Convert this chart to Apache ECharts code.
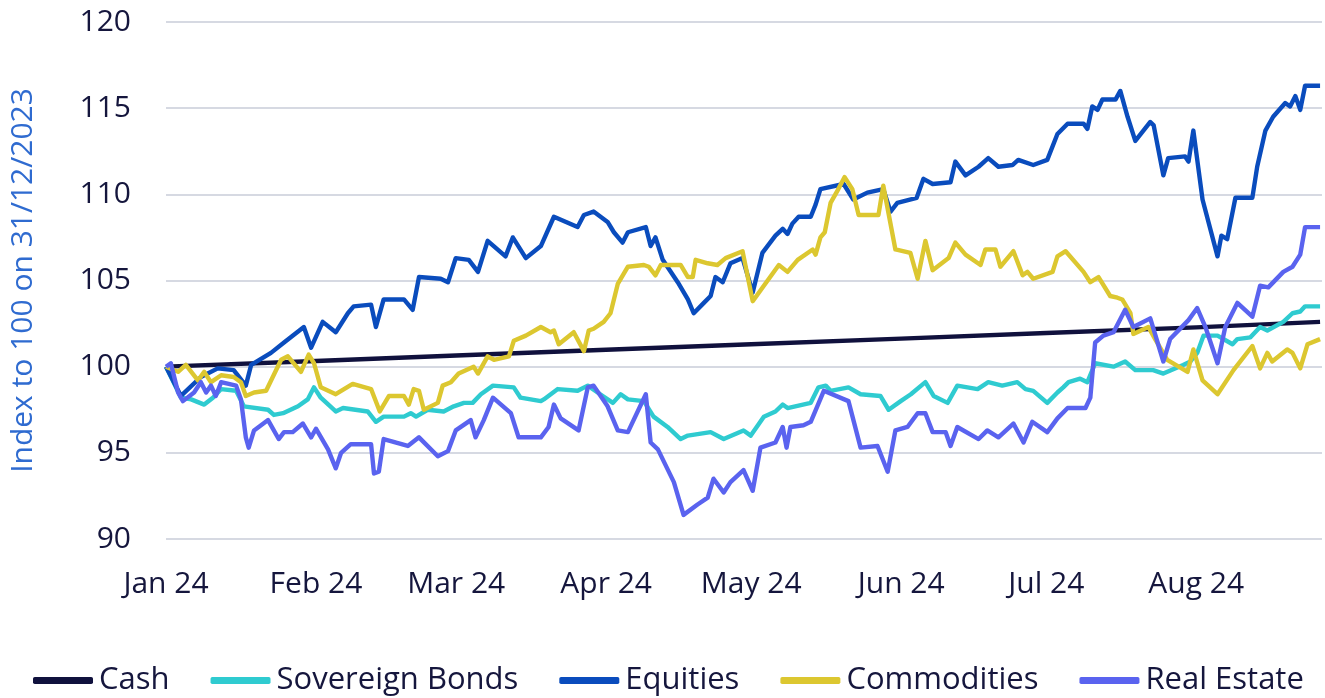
<!DOCTYPE html>
<html>
<head>
<meta charset="utf-8">
<script src="https://cdn.jsdelivr.net/npm/echarts@6/dist/echarts.min.js"></script>
<style>
  html, body { margin: 0; padding: 0; background: #fff; }
  #chart { width: 1325px; height: 698px; }
</style>
</head>
<body>
<div id="chart"></div>
<script>
// x values are days since 1 Jan 2024, y values are the index (100 = 31/12/2023)
const monthTicks = [0, 31, 60, 91, 121, 152, 182, 213]
const monthLabels = ['Jan 24', 'Feb 24', 'Mar 24', 'Apr 24', 'May 24', 'Jun 24', 'Jul 24', 'Aug 24']
const seriesNames = ['Cash', 'Sovereign Bonds', 'Equities', 'Commodities', 'Real Estate']

const cash = [[0, 100], [31, 100.33], [60, 100.65], [91, 100.98], [121, 101.3], [152, 101.63],
  [182, 101.95], [213, 102.28], [238.6, 102.6]]

const sovereignBonds = [[0, 100], [3.1, 98.2], [5.2, 98.1], [7.9, 97.8], [9.7, 98.2], [11.4, 98.7],
  [14.5, 98.6], [16.1, 97.7], [21.1, 97.5], [22.3, 97.2], [24.2, 97.3], [27.3, 97.7], [29.3, 98.1],
  [30.6, 98.8], [32, 98.2], [35.1, 97.4], [36.6, 97.6], [41.7, 97.4], [43.4, 96.8], [45, 97.1],
  [49.2, 97.1], [50.6, 97.3], [51.7, 97.1], [54.1, 97.5], [57.4, 97.4], [59.5, 97.7], [61.6, 97.9],
  [63.4, 97.9], [65.1, 98.4], [67.6, 98.9], [71.9, 98.8], [73.3, 98.2], [77.5, 98.0], [78.1, 98.1],
  [81, 98.7], [85.1, 98.6], [87.2, 98.9], [90.3, 98.3], [92.4, 97.9], [94, 98.4], [95.5, 98.1],
  [98.8, 98.0], [100.8, 97.1], [103.7, 96.5], [106.4, 95.8], [107.9, 96.0], [112.6, 96.2],
  [115.3, 95.8], [119.4, 96.3], [120.9, 96.0], [123.6, 97.1], [126, 97.4], [127.5, 97.8],
  [128.5, 97.6], [133.3, 97.9], [134.9, 98.8], [136.4, 98.9], [137.4, 98.6], [141.1, 98.8],
  [143.6, 98.4], [147.7, 98.3], [149.4, 97.5], [151.9, 98.0], [154, 98.4], [157, 99.1],
  [158.7, 98.3], [161.6, 97.9], [163.6, 98.9], [167.8, 98.7], [170, 99.1], [172.9, 98.9],
  [176, 99.1], [177.7, 98.7], [179.3, 98.6], [182.2, 97.9], [184.3, 98.5], [185.5, 98.8],
  [186.6, 99.1], [189, 99.3], [190.5, 99.1], [192.1, 100.2], [195.9, 100.0], [198.3, 100.3],
  [200.4, 99.8], [204.1, 99.8], [206.2, 99.6], [210.3, 100.1], [211.8, 100.3], [213.2, 100.8],
  [214.5, 101.8], [217.4, 101.8], [220.5, 101.3], [221.5, 101.6], [224.2, 101.7], [226.2, 102.3],
  [227.7, 102.1], [231, 102.6], [232.9, 103.1], [234.5, 103.2], [235.5, 103.5], [238.6, 103.5]]

const equities = [[0, 100], [3.1, 98.3], [7.2, 99.4], [10.7, 99.9], [14, 99.8], [16.5, 98.9],
  [17.6, 100.1], [21.7, 100.8], [24.4, 101.4], [28.5, 102.3], [30, 101.1], [32.4, 102.6],
  [35.1, 102.0], [37.6, 103.1], [38.8, 103.5], [42.4, 103.6], [43.4, 102.3], [45, 103.9],
  [49.2, 103.9], [51, 103.3], [52.3, 105.2], [56.8, 105.1], [58.3, 104.9], [59.9, 106.3],
  [62.6, 106.2], [64.5, 105.5], [66.5, 107.3], [70.2, 106.4], [71.7, 107.5], [74.4, 106.3],
  [77.5, 107.0], [80.2, 108.7], [85.1, 108.1], [86.4, 108.8], [88.4, 109.0], [91.3, 108.4],
  [92.6, 107.8], [94.4, 107.2], [95.5, 107.8], [99.2, 108.1], [100.2, 107.0], [101.2, 107.5],
  [102.7, 106.2], [105.8, 104.9], [107.9, 103.9], [109.1, 103.1], [111.2, 103.7], [112.6, 104.1],
  [113.6, 105.2], [115.1, 104.9], [116.7, 106.0], [119.2, 106.3], [121.3, 104.3], [123.3, 106.6],
  [126, 107.6], [127.5, 108.0], [128.5, 107.7], [129.5, 108.3], [130.8, 108.7], [133.3, 108.7],
  [134.3, 109.4], [135.3, 110.3], [140.1, 110.6], [142.1, 109.7], [145, 110.1], [148.3, 110.3],
  [149.8, 109.0], [151.2, 109.5], [155.2, 109.8], [156.6, 110.9], [158.5, 110.6], [162.2, 110.7],
  [163.2, 111.9], [165.3, 111.1], [168, 111.6], [170, 112.1], [172.1, 111.6], [175, 111.7],
  [176.2, 112.0], [179.3, 111.7], [182.2, 112.0], [184.3, 113.5], [186.4, 114.1], [189.7, 114.1],
  [190.5, 113.8], [191.5, 115.1], [192.6, 114.9], [193.6, 115.5], [196.3, 115.5], [197.3, 116.0],
  [198.8, 114.5], [200.4, 113.1], [203.5, 114.2], [204.2, 114.0], [206.2, 111.1], [207.2, 112.1],
  [210.7, 112.2], [211.4, 111.9], [212.4, 113.7], [214.3, 109.7], [217.4, 106.4], [218.2, 107.6],
  [219.4, 107.4], [221.1, 109.8], [224.6, 109.8], [225.6, 111.6], [227.3, 113.7], [228.9, 114.5],
  [231.4, 115.3], [232.4, 115.1], [233.5, 115.7], [234.5, 114.9], [235.5, 116.3], [238.6, 116.3]]

const commodities = [[0, 100], [2.5, 99.7], [4.1, 100.1], [6.6, 99.2], [7.9, 99.7], [9.3, 99.1],
  [11.4, 99.5], [14, 99.4], [15.5, 99.1], [16.5, 98.3], [18.2, 98.5], [20.7, 98.6], [23.8, 100.4],
  [25.2, 100.6], [27.9, 99.7], [29.5, 100.7], [30.6, 100.2], [32, 98.8], [35.1, 98.4], [38.6, 99.0],
  [42.4, 98.7], [44.2, 97.4], [46.1, 98.3], [49.2, 98.3], [50.2, 97.8], [51.2, 98.7], [52.3, 98.6],
  [53.3, 97.5], [56.2, 97.9], [57.2, 98.9], [58.9, 99.1], [60.5, 99.6], [63.6, 100.0], [64.5, 99.6],
  [66.5, 100.6], [67.8, 100.4], [70.9, 100.6], [71.9, 101.5], [74.4, 101.8], [77.5, 102.3],
  [79.5, 102.0], [80.2, 102.1], [81.2, 101.3], [84.3, 102.0], [86.4, 100.9], [87.4, 102.1],
  [88.4, 102.2], [90.5, 102.6], [91.9, 103.1], [93.4, 104.8], [95.5, 105.8], [98.8, 105.9],
  [99.8, 105.8], [101.2, 105.3], [102.3, 105.9], [106.4, 105.9], [107.9, 105.2], [108.9, 105.2],
  [109.5, 106.2], [112, 106.0], [114, 105.9], [115.7, 106.3], [119.2, 106.7], [121.3, 103.8],
  [123.6, 104.7], [126.7, 105.9], [128.5, 105.5], [130.6, 106.2], [133.7, 106.8], [134.3, 106.5],
  [135.3, 107.5], [136.2, 107.8], [137.4, 109.5], [138.8, 110.2], [140.3, 111.0], [141.9, 110.3],
  [143.2, 108.8], [147.3, 108.8], [148.3, 110.5], [150.8, 106.8], [153.9, 106.6], [155.4, 105.1],
  [157, 107.3], [158.5, 105.6], [161.8, 106.3], [163.2, 107.2], [165.3, 106.5], [168.4, 105.9],
  [169.4, 106.8], [171.5, 106.8], [172.5, 105.8], [175.2, 106.7], [177.1, 105.3], [178.1, 105.5],
  [179.3, 105.1], [183.3, 105.5], [184.3, 106.4], [186, 106.7], [189.7, 105.5], [191.1, 104.9],
  [192.8, 105.2], [195.2, 104.1], [196.7, 104.0], [197.7, 103.9], [199.4, 103.1], [200, 101.9],
  [203.1, 102.3], [204.5, 101.6], [207, 100.4], [211.2, 99.7], [212.4, 101.0], [214.3, 99.2],
  [217.4, 98.4], [220.7, 99.8], [224.6, 101.2], [226.2, 99.9], [227.7, 100.8], [228.7, 100.3],
  [231.8, 101.0], [232.9, 100.8], [234.5, 99.9], [236, 101.3], [238.6, 101.6]]

const realEstate = [[0, 100], [1, 100.2], [2.5, 98.5], [3.5, 98.0], [5.8, 98.5], [7.2, 99.1],
  [8.3, 98.5], [9.3, 98.9], [10.3, 98.3], [11.4, 99.1], [14.5, 98.9], [15.5, 98.1], [16.5, 95.9],
  [17.1, 95.3], [18.2, 96.3], [21.1, 96.9], [23.3, 95.8], [24.4, 96.2], [26.2, 96.2], [28.3, 96.7],
  [30, 95.9], [31, 96.4], [33.5, 95.2], [35.1, 94.1], [36.2, 95.0], [38.2, 95.5], [42.4, 95.5],
  [43, 93.8], [44, 93.9], [45, 95.8], [50, 95.4], [52.3, 95.9], [56.2, 94.8], [58.3, 95.1],
  [59.9, 96.3], [63, 96.9], [64, 95.9], [65.7, 96.9], [67.6, 98.2], [71.3, 97.3], [72.9, 95.9],
  [77.5, 95.9], [79.1, 96.5], [80.2, 97.8], [81.6, 97.0], [85.3, 96.3], [87.2, 98.8], [88.4, 98.9],
  [91.3, 97.7], [93.4, 96.3], [95.5, 96.2], [99.2, 98.4], [100.2, 95.6], [101.7, 95.2], [105, 93.3],
  [107, 91.4], [109.9, 92.0], [112, 92.4], [113.2, 93.5], [115.3, 92.7], [116.7, 93.3],
  [119.4, 94.0], [121.3, 92.8], [122.9, 95.3], [126, 95.6], [127.5, 96.5], [128.3, 95.3],
  [129.1, 96.5], [131.8, 96.6], [133.3, 96.8], [136, 98.6], [141.1, 98.0], [143.6, 95.3],
  [147.1, 95.4], [149.2, 93.9], [150.8, 96.3], [153.3, 96.5], [155.4, 97.3], [157, 97.3],
  [158.5, 96.2], [161.2, 96.2], [162.2, 95.4], [163.6, 96.5], [168, 95.8], [169.8, 96.3],
  [172.1, 95.9], [175.2, 96.7], [177.3, 95.6], [179.1, 96.8], [182.2, 96.2], [184.3, 97.0],
  [186.4, 97.6], [190.1, 97.6], [191.1, 98.2], [192.1, 101.4], [193.8, 101.8], [195.9, 102.0],
  [198.3, 103.3], [200, 102.3], [203.5, 102.8], [206.2, 100.3], [207.6, 101.6], [211.4, 102.7],
  [213.2, 103.4], [214.9, 102.3], [217.4, 100.2], [219, 102.3], [221.5, 103.7], [224.6, 102.9],
  [226.2, 104.7], [227.9, 104.6], [231, 105.5], [232.9, 105.8], [234.5, 106.5], [235.5, 108.1],
  [238.6, 108.1]]

const colors = ['#10113d', '#2fcbd0', '#0a4cbd', '#dcc730', '#5a63ef']
const seriesData = [cash, sovereignBonds, equities, commodities, realEstate]

const chart = echarts.init(document.getElementById('chart'))

const textColor = '#15163d'
const font = 'Open Sans, Noto Sans, sans-serif'

chart.setOption({
  animation: false,
  backgroundColor: '#ffffff',
  color: colors,
  grid: { left: 163, right: 3, top: 22, bottom: 159 },
  legend: {
    data: seriesNames,
    top: 660,
    left: 28,
    itemWidth: 60,
    itemHeight: 7,
    itemGap: 41,
    icon: 'roundRect',
    textStyle: {
      color: textColor,
      fontSize: 31,
      fontFamily: font,
      padding: [0, 0, 0, 1]
    }
  },
  xAxis: {
    type: 'value',
    min: 0,
    max: 239,
    axisLine: { show: false },
    axisTick: { show: false },
    splitLine: { show: false },
    axisLabel: {
      customValues: monthTicks,
      formatter: (v) => monthLabels[monthTicks.indexOf(v)] || '',
      color: textColor,
      fontSize: 30,
      fontFamily: font,
      margin: 30
    }
  },
  yAxis: {
    type: 'value',
    min: 90,
    max: 120,
    interval: 5,
    name: 'Index to 100 on 31/12/2023',
    nameLocation: 'middle',
    nameGap: 128,
    nameTextStyle: {
      color: '#2f6bd0',
      fontSize: 30,
      fontFamily: font
    },
    axisLine: { show: false },
    axisTick: { show: false },
    axisLabel: {
      color: textColor,
      fontSize: 30,
      fontFamily: font,
      margin: 35
    },
    splitLine: { lineStyle: { color: '#c9cdd8', width: 1.5 } }
  },
  series: seriesNames.map((name, i) => ({
    name,
    type: 'line',
    data: seriesData[i],
    symbol: 'none',
    lineStyle: { width: 4.4, color: colors[i], join: 'round' },
    itemStyle: { color: colors[i] }
  }))
})
</script>
</body>
</html>
